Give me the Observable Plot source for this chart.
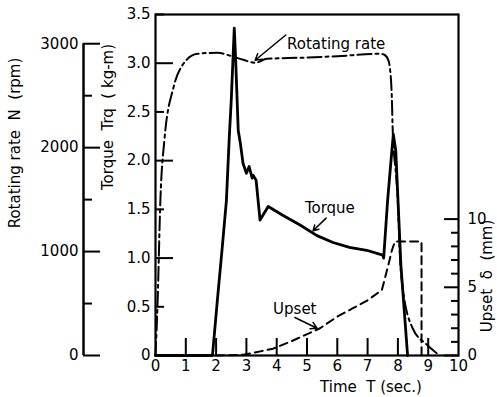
<!DOCTYPE html>
<html>
<head>
<meta charset="utf-8">
<script src="https://cdn.jsdelivr.net/npm/d3@7"></script>
<script src="https://cdn.jsdelivr.net/npm/@observablehq/plot@0.6"></script>
<style>
  body { margin: 0; background: #fff; }
</style>
</head>
<body>
<div id="chart"></div>
<script>
// ---- data ----
const torqueTime  = [0, 1.88, 2.04, 2.2, 2.34, 2.43, 2.5, 2.6, 2.65, 2.73, 2.8, 2.89, 3.0, 3.09, 3.19, 3.22, 3.32, 3.45, 3.72, 4.2, 4.77, 5.33, 5.86, 6.4, 6.97, 7.5, 7.53, 7.66, 7.8, 7.85, 7.93, 8.1, 8.32];
const torqueValue = [0, 0, 0.56, 1.1, 1.59, 2.21, 2.62, 3.36, 3.0, 2.31, 2.18, 1.97, 1.87, 1.94, 1.82, 1.85, 1.80, 1.39, 1.53, 1.44, 1.34, 1.23, 1.16, 1.11, 1.08, 1.03, 1.0, 1.59, 2.1, 2.27, 2.1, 0.92, 0];

const rateTime = [0, 0.07, 0.16, 0.3, 0.59, 0.92, 1.38, 2.04, 2.47, 2.9, 3.29, 3.68, 4.77, 6.0, 7.4, 7.55, 7.68, 7.73, 7.8, 7.83, 7.95, 8.0, 8.06, 8.16, 8.49, 8.95, 9.38];
const rateRpm  = [0, 521, 1485, 2093, 2575, 2807, 2903, 2913, 2884, 2845, 2817, 2855, 2865, 2880, 2903, 2894, 2845, 2780, 2479, 2160, 1700, 1485, 1003, 646, 260, 106, 0];

const upsetTime = [2.0, 2.9, 3.13, 3.88, 4.54, 5.43, 6.0, 6.5, 6.97, 7.47, 7.67, 7.8, 7.9, 8.78, 8.78];
const upsetMm   = [0, 0.05, 0.15, 0.5, 1.1, 2.0, 2.85, 3.45, 4.0, 4.8, 6.5, 7.7, 8.35, 8.35, 0];

const timeTicks   = [0, 1, 2, 3, 4, 5, 6, 7, 8, 9, 10];
const torqueTicks = [0, 0.5, 1, 1.5, 2, 2.5, 3, 3.5];
const rpmTicks    = [0, 500, 1000, 1500, 2000, 2500, 3000];
const upsetTicks  = [0, 1, 2, 3, 4, 5, 6, 7, 8, 9, 10];

const titles = {
  x: "Time  T (sec.)",
  rpm: "Rotating rate  N  (rpm)",
  torque: "Torque  Trq  ( kg-m)",
  upset: "Upset  δ  (mm)"
};
const noteLabels = ["Rotating rate", "Torque", "Upset"];
const noteTextT  = [4.34, 4.93, 3.88];
const noteTextV  = [3.20, 1.51, 0.48];
const noteFromT  = [4.30, 5.63, 4.60];
const noteFromV  = [3.29, 1.41, 0.39];
const noteToT    = [3.29, 5.20, 5.33];
const noteToV    = [3.03, 1.28, 0.28];

// secondary axes expressed in torque units (alignment with the reference)
const kRpm = 3.2 / 3000;
const kUpset = 0.14;

const torqueData = torqueTime.map((t, i) => ({t, v: torqueValue[i]}));
const rateData = rateTime.map((t, i) => ({t, v: rateRpm[i] * kRpm}));
const upsetData = upsetTime.map((t, i) => ({t, v: upsetMm[i] * kUpset}));
const notes = noteLabels.map((label, i) => ({
  label, tx: noteTextT[i], ty: noteTextV[i],
  x1: noteFromT[i], y1: noteFromV[i], x2: noteToT[i], y2: noteToV[i]
}));

const font = "DejaVu Sans";
const isMajor = d => Number.isInteger(d);
const rpmY = rpmTicks.map(d => d * kRpm);
const upsetY = upsetTicks.map(d => d * kUpset);

const chart = Plot.plot({
  width: 497,
  height: 397,
  marginLeft: 155,
  marginRight: 39,
  marginTop: 14,
  marginBottom: 42,
  x: {domain: [0, 10], axis: null},
  y: {domain: [0, 3.5], axis: null},
  style: {fontFamily: font, fontSize: "15px", color: "#000", background: "#fff"},
  marks: [
    Plot.frame({stroke: "#000", strokeWidth: 2.2}),

    // time axis: inward ticks and labels
    Plot.axisX(timeTicks.slice(1, -1), {anchor: "bottom", tickSize: -17, tickFormat: () => "", strokeWidth: 2, label: null}),
    Plot.axisX(timeTicks, {anchor: "bottom", tickSize: 0, tickPadding: 5, label: null, fontSize: 15}),
    Plot.text([titles.x], {frameAnchor: "bottom", textAnchor: "middle", lineAnchor: "middle", dx: 64, dy: 32, fontSize: 15}),

    // torque axis (frame left)
    Plot.axisY(torqueTicks.filter(isMajor), {anchor: "left", tickSize: -18, tickFormat: () => "", strokeWidth: 2, label: null}),
    Plot.axisY(torqueTicks.filter(d => !isMajor(d)), {anchor: "left", tickSize: -9, tickFormat: () => "", strokeWidth: 2, label: null}),
    Plot.axisY(torqueTicks, {anchor: "left", tickSize: 0, tickPadding: 5, tickFormat: d => d === 0 ? "0" : d.toFixed(1), label: null, fontSize: 15}),
    Plot.text([titles.torque], {frameAnchor: "left", textAnchor: "middle", lineAnchor: "middle", rotate: -90, dx: -47, dy: -68, fontSize: 15}),

    // rotating rate axis (detached, left)
    Plot.ruleX([0], {y1: rpmY[0], y2: rpmY[rpmY.length - 1], dx: -72, strokeWidth: 2.5}),
    Plot.axisY(rpmY.filter((d, i) => rpmTicks[i] % 1000 === 0), {anchor: "left", dx: -72, tickSize: -17, tickFormat: () => "", strokeWidth: 2, label: null}),
    Plot.axisY(rpmY.filter((d, i) => rpmTicks[i] % 1000 !== 0), {anchor: "left", dx: -72, tickSize: -9, tickFormat: () => "", strokeWidth: 2, label: null}),
    Plot.axisY(rpmY.filter((d, i) => rpmTicks[i] % 1000 === 0), {anchor: "left", dx: -72, tickSize: 0, tickPadding: 5, tickFormat: d => String(Math.round(d / kRpm)), label: null, fontSize: 15}),
    Plot.text([titles.rpm], {frameAnchor: "left", textAnchor: "middle", lineAnchor: "middle", rotate: -90, dx: -140, dy: -42, fontSize: 15}),

    // upset axis (frame right)
    Plot.axisY(upsetY.filter((d, i) => upsetTicks[i] % 5 === 0), {anchor: "right", tickSize: -15, tickFormat: () => "", strokeWidth: 2, label: null}),
    Plot.axisY(upsetY.filter((d, i) => upsetTicks[i] % 5 !== 0), {anchor: "right", tickSize: -8, tickFormat: () => "", strokeWidth: 2, label: null}),
    Plot.axisY(upsetY.filter((d, i) => upsetTicks[i] % 5 === 0), {anchor: "right", tickSize: 0, tickPadding: 9, tickFormat: d => String(Math.round(d / kUpset)), label: null, fontSize: 15}),
    Plot.text([titles.upset], {frameAnchor: "right", textAnchor: "middle", lineAnchor: "middle", rotate: -90, dx: 29, dy: 91, fontSize: 15}),

    // curves
    Plot.line(rateData, {x: "t", y: "v", stroke: "#000", strokeWidth: 2, strokeDasharray: "14,4,3,4", curve: "monotone-x"}),
    Plot.line(upsetData, {x: "t", y: "v", stroke: "#000", strokeWidth: 2, strokeDasharray: "8,5", curve: "linear"}),
    Plot.line(torqueData, {x: "t", y: "v", stroke: "#000", strokeWidth: 2.8, curve: "linear", strokeLinejoin: "round"}),

    // annotations
    Plot.arrow(notes, {x1: "x1", y1: "y1", x2: "x2", y2: "y2", stroke: "#000", strokeWidth: 1.5, headLength: 7}),
    Plot.text(notes, {x: "tx", y: "ty", text: "label", textAnchor: "start", fontSize: 15, fill: "#000"})
  ]
});

document.getElementById("chart").appendChild(chart);
</script>
</body>
</html>
